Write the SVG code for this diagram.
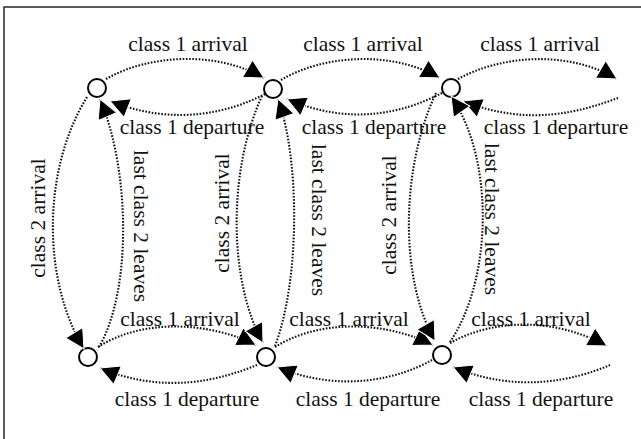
<svg xmlns="http://www.w3.org/2000/svg" width="641" height="439" viewBox="0 0 641 439">
<style>
.frame{fill:none;stroke:#333;stroke-width:1.6}
.node{fill:#fff;stroke:#000;stroke-width:2}
.edge{fill:none;stroke:#111;stroke-width:2.1;stroke-dasharray:1.6 1.6;marker-end:url(#ah)}
.lbl{font-family:"Liberation Serif","Times New Roman",serif;font-size:21.5px;fill:#111;text-anchor:middle}
</style>
<defs>
<marker id="ah" viewBox="-2 -2 25 25" markerWidth="25" markerHeight="25" refX="19" refY="10.5" orient="auto" markerUnits="userSpaceOnUse">
<path d="M0,0.5 L19,10.5 L0,20.5 Z" fill="#000" stroke="#fff" stroke-width="1"/>
</marker>
</defs>
<rect class="frame" x="4" y="7" width="660" height="460"/>
<g id="nodeA"><circle class="node" cx="97" cy="88" r="9"/></g>
<g id="nodeB"><circle class="node" cx="273" cy="89" r="9"/></g>
<g id="nodeC"><circle class="node" cx="451" cy="88" r="9"/></g>
<g id="nodeD"><circle class="node" cx="88" cy="357" r="9"/></g>
<g id="nodeE"><circle class="node" cx="266" cy="357" r="9"/></g>
<g id="nodeF"><circle class="node" cx="442" cy="355" r="9"/></g>
<g id="connectors">
<path class="edge" d="M106,79 C148,55 215,50 264,78"/>
<path class="edge" d="M281,80 C323,55 391,50 440,78"/>
<path class="edge" d="M458,79 C502,55 568,50 617,79"/>
<path class="edge" d="M265,94 C230,112 175,127 110,101"/>
<path class="edge" d="M442,93 C405,112 352,127 287,99"/>
<path class="edge" d="M618,98 C580,112 528,127 463,101"/>
<path class="edge" d="M98,347 C140,320 205,320 256,345"/>
<path class="edge" d="M275,347 C318,320 382,320 433,345"/>
<path class="edge" d="M450,343 C495,318 556,318 607,346"/>
<path class="edge" d="M257,365 C220,380 165,395 100,368"/>
<path class="edge" d="M432,360 C400,378 342,394 277,367"/>
<path class="edge" d="M610,365 C575,380 518,394 453,367"/>
<path class="edge" d="M87,97 C42,170 42,280 84,349"/>
<path class="edge" d="M99,347 C132,290 130,170 100,99"/>
<path class="edge" d="M262,96 C228,170 228,280 263,343"/>
<path class="edge" d="M275,346 C300,280 300,160 278,99"/>
<path class="edge" d="M436,93 C400,170 400,280 435,341"/>
<path class="edge" d="M450,342 C492,280 495,160 451,96"/>
</g>
<g id="labels">
<text class="lbl" x="188" y="51">class 1 arrival</text>
<text class="lbl" x="363" y="51">class 1 arrival</text>
<text class="lbl" x="540" y="51">class 1 arrival</text>
<text class="lbl" x="192" y="134">class 1 departure</text>
<text class="lbl" x="374" y="134">class 1 departure</text>
<text class="lbl" x="556" y="134">class 1 departure</text>
<text class="lbl" x="180" y="326">class 1 arrival</text>
<text class="lbl" x="349" y="326">class 1 arrival</text>
<text class="lbl" x="531" y="326">class 1 arrival</text>
<text class="lbl" x="187" y="406">class 1 departure</text>
<text class="lbl" x="368" y="406">class 1 departure</text>
<text class="lbl" x="541" y="406">class 1 departure</text>
<text class="lbl" transform="translate(45,218) rotate(-90)">class 2 arrival</text>
<text class="lbl" transform="translate(229,213) rotate(-90)">class 2 arrival</text>
<text class="lbl" transform="translate(396,215) rotate(-90)">class 2 arrival</text>
<text class="lbl" transform="translate(134,226) rotate(90)">last class 2 leaves</text>
<text class="lbl" transform="translate(312,220) rotate(90)">last class 2 leaves</text>
<text class="lbl" transform="translate(485,219) rotate(90)">last class 2 leaves</text>
</g>
</svg>
